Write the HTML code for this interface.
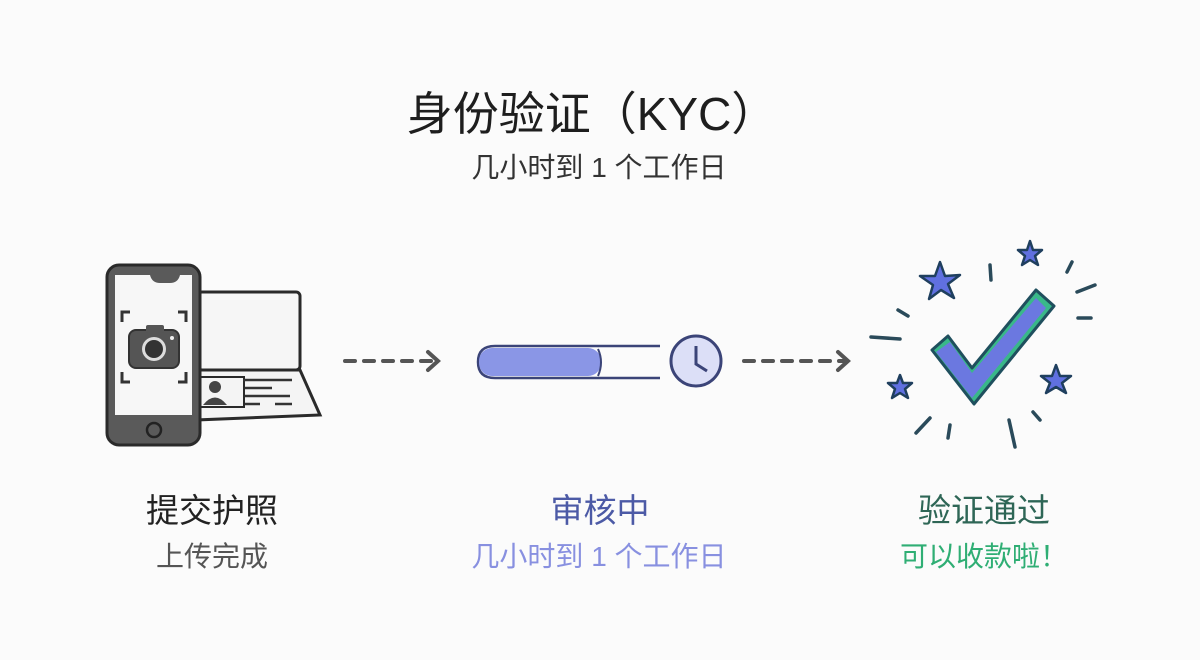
<!DOCTYPE html>
<html><head><meta charset="utf-8"><style>
body{margin:0;background:#fbfbfb;width:1200px;height:655px;overflow:hidden;font-family:"Liberation Sans","Noto Sans CJK SC",sans-serif}
</style></head><body>
<svg width="1200" height="655" viewBox="0 0 1200 655" xmlns="http://www.w3.org/2000/svg" font-family="Liberation Sans, Noto Sans CJK SC, sans-serif">
<rect width="1200" height="655" fill="#fbfbfb"/>
<text x="592" y="130" font-size="46" text-anchor="middle" fill="#1e1e1e">身份验证（KYC）</text>
<text x="599" y="177" font-size="28" text-anchor="middle" fill="#333">几小时到 1 个工作日</text>

<!-- laptop -->
<rect x="198" y="292" width="102" height="78" rx="4" fill="#f6f6f6" stroke="#2a2a2a" stroke-width="3"/>
<path d="M198 370 L300 370 L320 415 L195 420 Z" fill="#f4f4f4" stroke="#2a2a2a" stroke-width="3"/>
<rect x="200" y="377" width="44" height="30" fill="#f4f4f4" stroke="#2a2a2a" stroke-width="2"/>
<circle cx="215" cy="387" r="6" fill="#444"/>
<path d="M203 405 Q215 390 227 405 Z" fill="#444"/>
<g stroke="#333" stroke-width="2.5"><line x1="243" y1="380" x2="292" y2="380"/><line x1="245" y1="388" x2="272" y2="388"/><line x1="245" y1="396" x2="290" y2="396"/><line x1="245" y1="404" x2="260" y2="404"/><line x1="275" y1="404" x2="292" y2="404"/></g>
<!-- phone -->
<rect x="107" y="265" width="93" height="180" rx="12" fill="#5a5a5a" stroke="#2a2a2a" stroke-width="3"/>
<path d="M115 275 L150 275 Q152 283 160 283 L170 283 Q178 283 180 275 L192 275 L192 415 L115 415 Z" fill="#f7f7f7"/>
<circle cx="154" cy="430" r="7" fill="none" stroke="#222" stroke-width="2.5"/>
<g stroke="#333" stroke-width="3" fill="none"><path d="M122 322 V312 H130"/><path d="M178 312 H186 V322"/><path d="M122 372 V382 H130"/><path d="M178 382 H186 V372"/></g>
<rect x="129" y="330" width="50" height="38" rx="7" fill="#555" stroke="#333" stroke-width="2"/>
<rect x="146" y="325" width="18" height="8" rx="2" fill="#555"/>
<circle cx="154" cy="349" r="12" fill="#ddd"/><circle cx="154" cy="349" r="9" fill="#333"/>
<circle cx="172" cy="338" r="2" fill="#eee"/>

<!-- arrows -->
<g stroke="#555" stroke-width="4" stroke-linecap="round" fill="none">
<path d="M345 361 H435" stroke-dasharray="10 9"/><path d="M428 352 L438 361 L428 370"/>
<path d="M744 361 H845" stroke-dasharray="10 9"/><path d="M838 352 L848 361 L838 370"/>
</g>
<!-- progress -->
<path d="M660 346 H495 Q478 346 478 362 Q478 378 495 378 H660" fill="none" stroke="#3b4478" stroke-width="2.5"/>
<rect x="479" y="348" width="122" height="28" rx="13" fill="#8a96e6"/>
<path d="M598 349 Q604 362 598 376" stroke="#3b4478" stroke-width="2" fill="none"/>
<circle cx="696" cy="361" r="25" fill="#dcdff7" stroke="#3b4478" stroke-width="3"/>
<path d="M696 346 V364 L707 371" stroke="#3b4478" stroke-width="3" fill="none"/>

<!-- check -->
<path d="M932 350 L948 336 L972 368 L1036 290 L1054 306 L974 404 Z" fill="#39b889" stroke="#1f4f5e" stroke-width="3" stroke-linejoin="round"/>
<path d="M936 352 L950 342 L972 373 L1036 298 L1046 308 L972 398 Z" fill="#6b78e0"/>
<g fill="#6070e0" stroke="#1f3f5e" stroke-width="2.5" stroke-linejoin="round">
<path d="M940 262 L945 276 L960 275 L948 284 L954 298 L941 290 L929 299 L933 285 L920 276 L935 276 Z"/>
<path d="M1030 241 L1033 250 L1042 250 L1035 256 L1038 265 L1030 260 L1022 265 L1025 256 L1018 250 L1027 250 Z"/>
<path d="M900 375 L903 383 L912 383 L905 389 L908 398 L900 393 L892 398 L895 389 L888 383 L897 383 Z"/>
<path d="M1056 365 L1060 376 L1071 376 L1062 383 L1066 393 L1056 387 L1046 393 L1050 383 L1041 376 L1052 376 Z"/>
</g>
<g stroke="#2a4a5a" stroke-width="3.5" stroke-linecap="round">
<line x1="990" y1="265" x2="991" y2="280"/><line x1="1072" y1="262" x2="1067" y2="272"/><line x1="1077" y1="292" x2="1095" y2="285"/>
<line x1="1078" y1="318" x2="1091" y2="318"/><line x1="898" y1="310" x2="908" y2="316"/><line x1="871" y1="337" x2="900" y2="339"/>
<line x1="916" y1="433" x2="930" y2="418"/><line x1="950" y1="425" x2="948" y2="438"/><line x1="1009" y1="420" x2="1015" y2="447"/><line x1="1033" y1="412" x2="1040" y2="420"/>
</g>

<g text-anchor="middle">
<text x="212" y="522" font-size="33" fill="#222">提交护照</text>
<text x="212" y="566" font-size="28" fill="#555">上传完成</text>
<text x="600" y="522" font-size="33" fill="#4c5aa6">审核中</text>
<text x="599" y="566" font-size="28" fill="#8890e0">几小时到 1 个工作日</text>
<text x="984" y="522" font-size="33" fill="#2e6656">验证通过</text>
<text x="984" y="566" font-size="28" fill="#2fae74">可以收款啦！</text>
</g>
</svg>
</body></html>
